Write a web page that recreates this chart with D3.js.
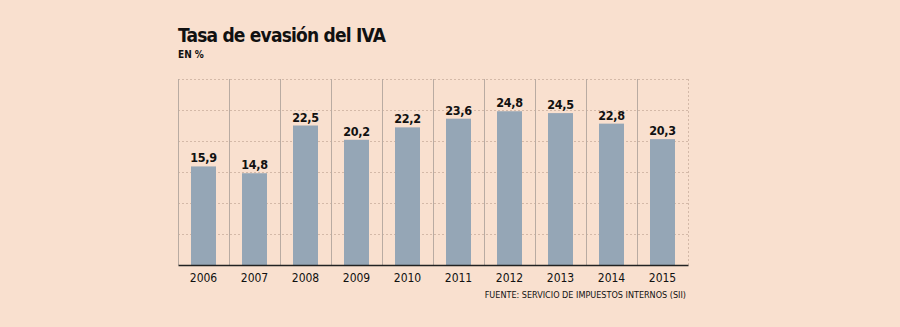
<!DOCTYPE html>
<html>
<head>
<meta charset="utf-8">
<script src="https://cdn.jsdelivr.net/npm/d3@7"></script>
<style>
  body { margin: 0; background: #f9e0cf; }
  svg { display: block; }
</style>
</head>
<body>
<div id="chart"></div>
<script>
(() => {
  const width = 900;
  const height = 327;
  const margin = { top: 79, left: 178, right: 212, bottom: 62 };
  const innerWidth = width - margin.left - margin.right;
  const innerHeight = height - margin.top - margin.bottom;

  const years = ["2006", "2007", "2008", "2009", "2010", "2011", "2012", "2013", "2014", "2015"];
  const evasion = [15.9, 14.8, 22.5, 20.2, 22.2, 23.6, 24.8, 24.5, 22.8, 20.3];
  const gridValues = [5, 10, 15, 20, 25, 30];

  const font = "'DejaVu Sans Condensed', 'DejaVu Sans', sans-serif";
  const fmt = (v) => d3.format(".1f")(v).replace(".", ",");

  const svg = d3
    .select("#chart")
    .append("svg")
    .attr("width", width)
    .attr("height", height);

  svg.append("rect").attr("width", width).attr("height", height).attr("fill", "#f9e0cf");

  // Title
  svg.append("text")
    .attr("x", margin.left)
    .attr("y", 42)
    .style("font-family", font)
    .style("font-weight", "bold")
    .style("font-size", "19px")
    .style("letter-spacing", "-0.8px")
    .attr("fill", "#111")
    .text("Tasa de evasión del IVA");

  svg.append("text")
    .attr("x", margin.left)
    .attr("y", 58)
    .style("font-family", font)
    .style("font-weight", "bold")
    .style("font-size", "10px")
    .attr("fill", "#111")
    .text("EN %");

  const g = svg.append("g").attr("transform", `translate(${margin.left},${margin.top})`);

  const x = d3.scaleBand().domain(years).range([0, innerWidth]).paddingInner(0).paddingOuter(0);
  const y = d3.scaleLinear().domain([0, 30]).range([innerHeight, 0]);

  // dotted horizontal grid
  g.selectAll(".hgrid")
    .data(gridValues)
    .join("line")
    .attr("class", "hgrid")
    .attr("x1", 0)
    .attr("x2", innerWidth)
    .attr("y1", (d) => y(d) + 0.5)
    .attr("y2", (d) => y(d) + 0.5)
    .attr("stroke", "#d4b9a8")
    .attr("stroke-dasharray", "2,2");

  // column separators
  const edges = years.map((d) => x(d));
  g.selectAll(".vgrid")
    .data(edges)
    .join("line")
    .attr("class", "vgrid")
    .attr("x1", (d) => Math.round(d) + 0.5)
    .attr("x2", (d) => Math.round(d) + 0.5)
    .attr("y1", 0)
    .attr("y2", innerHeight)
    .attr("stroke", "#b9aba2");

  g.append("line")
    .attr("x1", innerWidth + 0.5)
    .attr("x2", innerWidth + 0.5)
    .attr("y1", 0)
    .attr("y2", innerHeight)
    .attr("stroke", "#d4b9a8")
    .attr("stroke-dasharray", "2,2");

  // bars
  const barW = 25;
  g.selectAll(".bar")
    .data(evasion)
    .join("rect")
    .attr("class", "bar")
    .attr("x", (d, i) => x(years[i]) + (x.bandwidth() - barW) / 2)
    .attr("width", barW)
    .attr("y", (d) => y(d))
    .attr("height", (d) => innerHeight - y(d))
    .attr("fill", "#95a6b6");

  // value labels
  g.selectAll(".val")
    .data(evasion)
    .join("text")
    .attr("class", "val")
    .attr("x", (d, i) => x(years[i]) + x.bandwidth() / 2)
    .attr("y", (d) => y(d) - 4)
    .attr("text-anchor", "middle")
    .style("font-family", font)
    .style("font-weight", "bold")
    .style("font-size", "12.5px")
    .style("letter-spacing", "-0.3px")
    .attr("fill", "#111")
    .text(fmt);

  // x axis
  const xAxis = g.append("g")
    .attr("transform", `translate(0,${innerHeight})`)
    .call(d3.axisBottom(x).tickSize(0).tickPadding(8));
  xAxis.select(".domain").attr("stroke", "#222").attr("stroke-width", 1.5);
  xAxis.selectAll("text")
    .style("font-family", font)
    .style("font-size", "12px")
    .attr("fill", "#111");

  // source
  svg.append("text")
    .attr("x", margin.left + innerWidth - 2)
    .attr("y", 298)
    .attr("text-anchor", "end")
    .style("font-family", font)
    .style("font-size", "9px")
    .attr("fill", "#111")
    .text("FUENTE: SERVICIO DE IMPUESTOS INTERNOS (SII)");
})();
</script>
</body>
</html>
